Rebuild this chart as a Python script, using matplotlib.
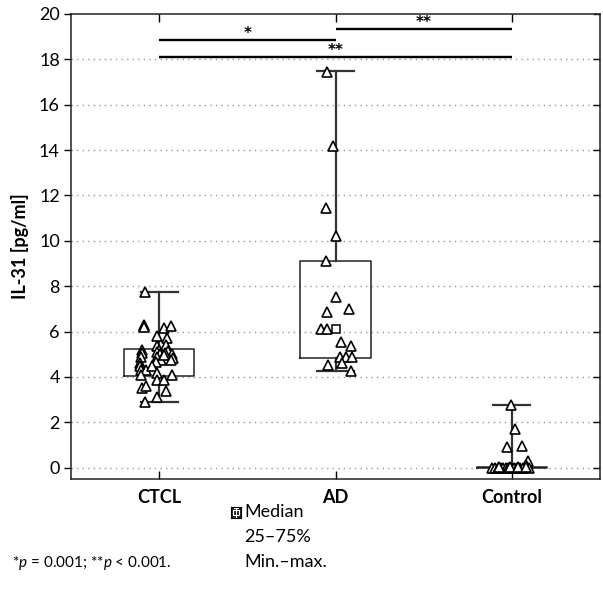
import numpy as np
import matplotlib
matplotlib.use('Agg')
import matplotlib.pyplot as plt
from matplotlib.patches import Rectangle

plt.rcParams['font.family'] = ['Lato', 'DejaVu Sans']
plt.rcParams['mathtext.fontset'] = 'custom'
plt.rcParams['mathtext.rm'] = 'Lato'
plt.rcParams['mathtext.it'] = 'Lato:italic'

# groups and box statistics
groups = ['CTCL', 'AD', 'Control']
medians = [4.95, 6.1, 0.0]
q1 = [4.03, 4.82, 0.0]
q3 = [5.23, 9.11, 0.05]
mins = [2.9, 4.28, 0.0]
maxs = [7.75, 17.5, 2.78]

# individual measurements, with the horizontal scatter (jitter) seen in the figure
ctcl_vals = [7.75, 6.3, 6.25, 6.2, 6.17, 6.23, 5.8, 5.73, 5.35, 5.42,
             5.2, 5.05, 4.9, 5.2, 5.1, 5.0, 4.9, 4.75, 4.65, 5.15,
             5.0, 4.85, 4.75, 5.05, 4.95, 4.6, 4.5, 4.3, 4.3, 4.5,
             4.17, 4.1, 4.1, 3.85, 3.85, 3.5, 3.6, 3.4, 3.1, 2.9]
ctcl_jit = [-0.08, -0.085, -0.085, -0.085, 0.025, 0.065, -0.015, 0.045, -0.015, 0.04,
            -0.1, -0.1, -0.105, 0.0, -0.015, 0.005, -0.01, 0.01, -0.02, 0.05,
            0.07, 0.08, 0.065, 0.035, 0.03, -0.11, -0.11, -0.105, -0.075, -0.04,
            -0.01, 0.075, -0.105, -0.01, 0.03, -0.1, -0.075, 0.04, -0.015, -0.08]

ad_vals = [17.45, 14.2, 11.45, 10.2, 9.1, 7.53, 7.01, 6.86, 6.1, 6.1,
           5.54, 5.38, 4.88, 4.88, 4.88, 4.63, 4.51, 4.26]
ad_jit = [-0.05, -0.015, -0.055, 0.005, -0.055, 0.005, 0.075, -0.05, -0.08, -0.05,
          0.03, 0.09, 0.025, 0.06, 0.095, 0.035, -0.045, 0.09]

ctrl_vals = [2.78, 1.72, 0.91, 0.95, 0.28, 0.12,
             0.0, 0.0, 0.0, 0.0, 0.0, 0.0, 0.0, 0.0, 0.0, 0.0, 0.0, 0.0,
             0.05, 0.05, 0.05, 0.03]
ctrl_jit = [-0.005, 0.02, -0.03, 0.06, 0.09, 0.08,
            -0.11, -0.095, -0.08, -0.06, -0.05, -0.035, -0.02, 0.01, 0.03, 0.045, 0.065, 0.1,
            -0.07, -0.01, 0.035, 0.08]

values = [ctcl_vals, ad_vals, ctrl_vals]
jitters = [ctcl_jit, ad_jit, ctrl_jit]

# significance brackets: (group a, group b, height, label)
brackets = [(0, 1, 18.85, '*'), (1, 2, 19.35, '**'), (0, 2, 18.1, '**')]

fig = plt.figure(figsize=(6.03, 6.03), dpi=100)
ax = fig.add_axes([71 / 603, 1 - 479 / 603, 529 / 603, 465 / 603])

positions = np.arange(1, len(groups) + 1)
stats = []
for i in range(len(groups)):
    stats.append({'med': medians[i], 'q1': q1[i], 'q3': q3[i],
                  'whislo': mins[i], 'whishi': maxs[i], 'fliers': [],
                  'mean': medians[i]})

ax.bxp(stats, positions=positions, widths=0.4, showmeans=True, showfliers=False,
       boxprops=dict(color='#222222', linewidth=1.1),
       whiskerprops=dict(color='#333333', linewidth=1.6),
       capprops=dict(color='#333333', linewidth=1.6),
       medianprops=dict(linewidth=0),
       meanprops=dict(marker='s', markerfacecolor='white', markeredgecolor='black',
                      markersize=6, markeredgewidth=1.1),
       capwidths=0.21, zorder=2)

for i in range(len(groups)):
    xs = positions[i] + np.array(jitters[i])
    ax.plot(xs, values[i], linestyle='none', marker='^', markersize=6.5,
            markerfacecolor='white', markeredgecolor='black', markeredgewidth=1.2, zorder=3)

for a, b, h, lab in brackets:
    ax.plot([positions[a], positions[b]], [h, h], color='black', linewidth=1.7,
            solid_capstyle='butt', zorder=4)
    ax.text((positions[a] + positions[b]) / 2, h - 0.05, lab, ha='center', va='bottom',
            fontsize=11, fontweight='bold', family='DejaVu Sans')

ax.set_xlim(0.5, 3.5)
ax.set_ylim(-0.5, 20)
ax.set_yticks(np.arange(0, 21, 2))
ax.set_xticks(positions)
ax.set_xticklabels(groups, fontsize=13, fontweight='bold')
ax.tick_params(axis='y', labelsize=13, direction='out', length=5, width=1,
               right=True, pad=3)
ax.tick_params(axis='x', direction='in', length=6, width=1, top=True, pad=7)
ax.set_ylabel('IL-31 [pg/ml]', fontsize=13, fontweight='bold', labelpad=7)

for yv in np.arange(0, 19, 2):
    ax.axhline(yv, color='#999999', linestyle=(0, (1, 3)), linewidth=1, zorder=0)

for s in ax.spines.values():
    s.set_linewidth(1.1)
    s.set_color('#222222')

# right ticks point inward
for t in ax.yaxis.get_major_ticks():
    t.tick2line.set_marker(matplotlib.lines.TICKLEFT)

# legend block below the chart
icon = fig.add_axes([231 / 603, 1 - 518 / 603, 10 / 603, 11 / 603])
icon.set_xlim(0, 1)
icon.set_ylim(0, 1)
icon.set_facecolor('#222222')
icon.set_xticks([])
icon.set_yticks([])
icon.add_patch(Rectangle((0.22, 0.3), 0.56, 0.45, facecolor='none', edgecolor='white', linewidth=0.8))
icon.plot([0.5, 0.5], [0.1, 0.9], color='white', linewidth=0.8)
icon.plot([0.3, 0.7], [0.9, 0.9], color='white', linewidth=0.8)

fig.text(244 / 603, 1 - 512 / 603, 'Median', fontsize=13, va='center', ha='left')
fig.text(244 / 603, 1 - 537 / 603, '25\u201375%', fontsize=13, va='center', ha='left')
fig.text(244 / 603, 1 - 562 / 603, 'Min.\u2013max.', fontsize=13, va='center', ha='left')
fig.text(12 / 603, 1 - 563 / 603, '*$\\it{p}$ = 0.001; **$\\it{p}$ < 0.001.', fontsize=11,
         va='center', ha='left')

fig.savefig('out.png', dpi=100)
